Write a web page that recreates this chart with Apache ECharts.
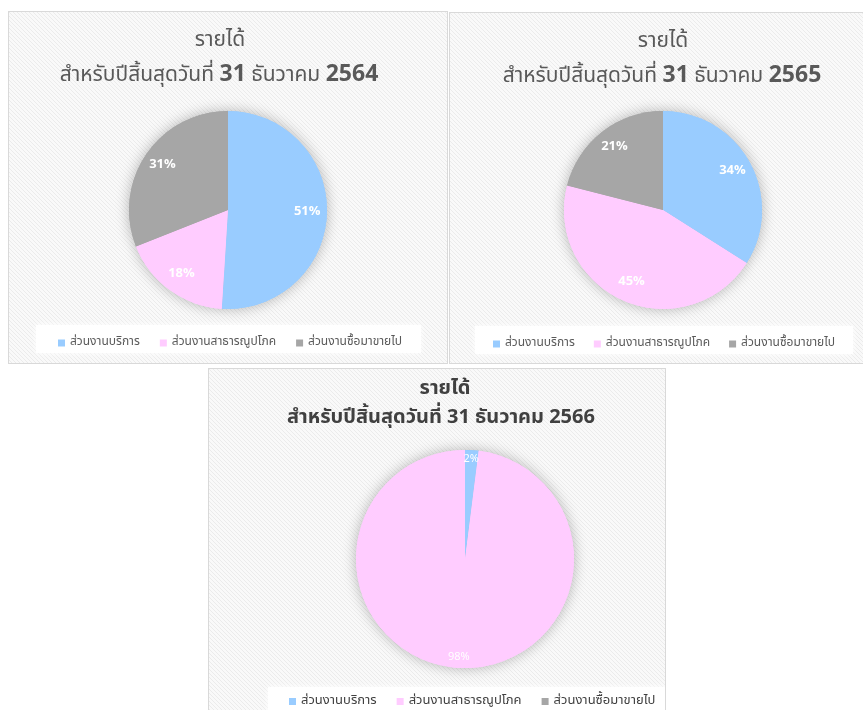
<!DOCTYPE html>
<html><head><meta charset="utf-8">
<script src="https://cdn.jsdelivr.net/npm/echarts@6/dist/echarts.min.js"></script>
<style>
html,body{margin:0;padding:0;width:863px;height:710px;overflow:hidden;background:#fff;}
.panel{position:absolute;box-sizing:border-box;border:1px solid #d9d9d9;
background-color:#f7f7f7;
background-image:url("data:image/svg+xml;utf8,<svg xmlns='http://www.w3.org/2000/svg' width='4' height='4'><rect width='4' height='4' fill='%23f9f9f9'/><path d='M-1,3 l2,2 M0,0 l4,4 M3,-1 l2,2' stroke='%23ebebeb' stroke-width='1'/></svg>");
background-repeat:repeat;}
.chart{position:absolute;left:0;top:0;}
</style></head><body>
<div class="panel" style="left:8px;top:11px;width:440px;height:353px"><div class="chart" id="c1" style="width:438px;height:351px"></div></div>
<div class="panel" style="left:449px;top:12px;width:416px;height:352px"><div class="chart" id="c2" style="width:414px;height:350px"></div></div>
<div class="panel" style="left:208px;top:368px;width:458px;height:346px"><div class="chart" id="c3" style="width:456px;height:344px"></div></div>
<script>
// ---- data ----
const categories = ['ส่วนงานบริการ', 'ส่วนงานสาธารณูปโภค', 'ส่วนงานซื้อมาขายไป'];
const values2564 = [51, 18, 31];
const values2565 = [34, 45, 21];
const values2566 = [2, 98, 0];
const titleLine1 = 'รายได้';
const titlePrefix = 'สำหรับปีสิ้นสุดวันที่';
const titleDay = '31';
const titleMonth = 'ธันวาคม';
const years = ['2564', '2565', '2566'];

// ---- styles ----
const colors = ['#99CCFF', '#FFCCFF', '#A6A6A6'];
const FONT = '"Noto Sans Thai", "Noto Sans", "DejaVu Sans", sans-serif';

function build(cfg) {
  const data = categories.map((n, i) => ({ name: n, value: cfg.values[i], itemStyle: { color: colors[i] } }));
  const common = { type: 'pie', center: cfg.center, startAngle: 90, clockwise: true,
    animation: false, silent: true, percentPrecision: 0, labelLine: { show: false } };
  const line2 = cfg.boldAll
    ? `${titlePrefix} ${titleDay} ${titleMonth} ${cfg.year}`
    : `${titlePrefix} {b|${titleDay}} ${titleMonth} {b|${cfg.year}}`;
  return {
    backgroundColor: 'transparent',
    textStyle: { fontFamily: FONT },
    graphic: [{ type: 'rect', z: -1, shape: cfg.legendBox,
      style: { fill: 'rgba(255,255,255,0.92)', shadowBlur: 6, shadowColor: 'rgba(255,255,255,1)' } }],
    title: [
      { text: titleLine1, left: cfg.t1x, textAlign: 'center', top: cfg.t1,
        textStyle: { fontFamily: FONT, fontSize: cfg.tSize, fontWeight: cfg.boldAll ? 'bold' : 'normal', color: cfg.tColor } },
      { text: line2, left: cfg.t2x, textAlign: 'center', top: cfg.t2,
        textStyle: { fontFamily: FONT, fontSize: cfg.tSize, fontWeight: cfg.boldAll ? 'bold' : 'normal', color: cfg.tColor,
          rich: { b: { fontFamily: FONT, fontSize: cfg.tSize + 2, fontWeight: 'bold', color: cfg.tColor } } } }
    ],
    legend: {
      data: categories, left: cfg.legendLeft, top: cfg.legendTop, icon: 'rect', padding: [5, 0],
      itemWidth: 7, itemHeight: 7, itemGap: cfg.legendGap,
      textStyle: { fontFamily: FONT, fontSize: cfg.legendSize, color: cfg.legendColor }
    },
    series: [
      Object.assign({}, common, { name: 'shadow', radius: cfg.r, z: 1, data: data,
        itemStyle: { shadowBlur: 14, shadowColor: 'rgba(0,0,0,0.28)' }, label: { show: false } }),
      Object.assign({}, common, { name: 'main', radius: cfg.r, z: 2, data: data, label: { show: false } }),
      Object.assign({}, common, { name: 'labels', radius: [cfg.r * cfg.labelK, cfg.r], z: 3,
        data: categories.map((n, i) => ({ name: n, value: cfg.values[i], itemStyle: { color: 'rgba(0,0,0,0)' } })),
        label: { show: true, position: 'inside', color: '#fff', fontFamily: FONT,
          fontSize: cfg.labelSize, fontWeight: cfg.labelWeight,
          formatter: p => (p.value > 0 ? p.percent + '%' : '') } })
    ]
  };
}

const cfgs = [
  { id: 'c1', values: values2564, year: years[0], center: [219, 198], r: 99, labelK: 0.54,
    t1: 14, t2: 48, t1x: 206, t2x: 205, tSize: 21, tColor: '#595959', boldAll: false,
    legendLeft: 49, legendTop: 320, legendGap: 20, legendSize: 12, legendColor: '#595959', labelSize: 13, labelWeight: 'bold',
    legendBox: { x: 27, y: 313, width: 385, height: 28 } },
  { id: 'c2', values: values2565, year: years[1], center: [213, 197], r: 99, labelK: 0.54,
    t1: 14, t2: 48, t1x: 208, t2x: 207, tSize: 21, tColor: '#595959', boldAll: false,
    legendLeft: 43, legendTop: 320, legendGap: 19, legendSize: 12, legendColor: '#595959', labelSize: 13, labelWeight: 'bold',
    legendBox: { x: 25, y: 313, width: 378, height: 28 } },
  { id: 'c3', values: values2566, year: years[2], center: [256, 190], r: 109, labelK: 0.76,
    t1: 6, t2: 35, t1x: 231, t2x: 227, tSize: 20, tColor: '#404040', boldAll: true,
    legendLeft: 80, legendTop: 321, legendGap: 20, legendSize: 13, legendColor: '#404040', labelSize: 11, labelWeight: 'normal',
    legendBox: { x: 59, y: 318, width: 400, height: 30 } }
];

cfgs.forEach(c => {
  const chart = echarts.init(document.getElementById(c.id), null, { renderer: 'canvas' });
  chart.setOption(build(c));
});
</script>
</body></html>
